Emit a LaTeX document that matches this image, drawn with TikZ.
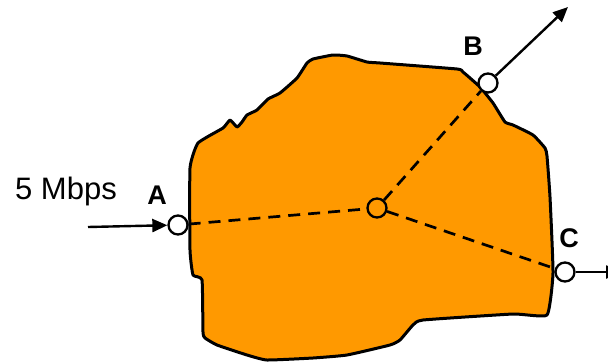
\documentclass[tikz,border=0pt]{standalone}
\usepackage{fontspec}
\setmainfont{Liberation Sans}
\usepackage{tikz}
\usetikzlibrary{arrows.meta}
\definecolor{blobfill}{RGB}{255,153,0}

\begin{document}
\begin{tikzpicture}[x=1pt,y=-1pt,
  port_node/.style={circle,draw,fill=white,line width=2.3pt,minimum size=19pt,inner sep=0},
  label_node/.style={font=\fontsize{27}{27}\selectfont\bfseries,inner sep=0},
  flow_arrow/.style={line width=2.4pt,-{Triangle[length=15pt,width=13pt]}},
  path_line/.style={line width=2.7pt,dash pattern=on 12pt off 8pt}]
\useasboundingbox (0,0) rectangle (608,362);
\clip (0,0) rectangle (608,362);
    % the network cloud
    \draw[line width=3pt, fill=blobfill, line join=round] plot[smooth cycle, tension=0.25] coordinates {
      (190,168) (198,143) (223,128) (230,120) (237,127) (242,122) (247,115) (257,110)
      (268,99) (280,93) (297,78) (307,63) (313,59) (333,55) (347,56) (367,62) (380,63)
      (457,69) (463,72) (480,87) (493,103) (505,122) (513,125) (533,135) (545,148)
      (547,156) (550,197) (553,273) (547,315) (513,314) (423,320) (413,325) (400,340)
      (390,345) (347,355) (313,358) (267,360) (247,355) (217,345) (205,338) (203,332)
      (202,280) (193,275) (190,250)};

    \node[port_node] (A) at (178,225) {};
    \node[port_node] (B) at (488,83) {};
    \node[port_node] (C) at (565,272) {};
    \node[port_node, fill=blobfill] (hub) at (377,208) {};

    \draw[path_line] (A) -- (hub);
    \draw[path_line] (hub) -- (B);
    \draw[path_line] (hub) -- (C);

    \node[label_node] (A_label) at (157,195) {A};
    \node[label_node] (B_label) at (473,46) {B};
    \node[label_node] (C_label) at (569,238) {C};
    \node[font=\fontsize{31}{31}\selectfont, inner sep=0] (rate_label) at (66,191) {5 Mbps};

    \coordinate (in_start) at (88,227);
    \coordinate (B_end) at (568,7);
    \coordinate (C_end) at (621,272);
    \draw[flow_arrow] (in_start) -- (A);
    \draw[flow_arrow] (B) -- (B_end);
    \draw[flow_arrow] (C) -- (C_end);

\end{tikzpicture}
\end{document}
